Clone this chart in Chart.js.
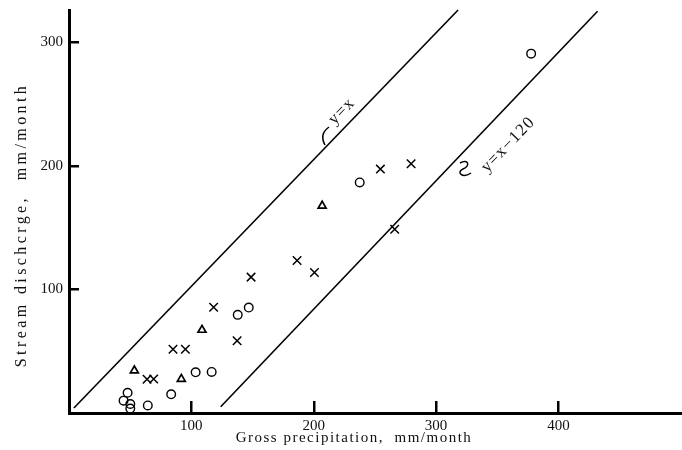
<!DOCTYPE html>
<html>
<head>
<meta charset="utf-8">
<script src="https://cdn.jsdelivr.net/npm/chart.js@4"></script>
<style>
    html, body { margin: 0; padding: 0; background: #fff; }
    #wrap { width: 682px; height: 450px; }
</style>
</head>
<body>
<div id="wrap"><canvas id="myChart" width="682" height="450"></canvas></div>
<script>
// values (mm/month)
const circle_x = [47.9, 44.6, 50.1, 50.1, 64.4, 83.5, 103.5, 116.6, 137.9, 146.9, 237.6, 377.7]
const circle_y = [16.4, 10.0, 7.3, 3.6, 6.1, 15.1, 32.9, 33.2, 79.4, 85.3, 186.5, 290.7]

const tri_x = [53.4, 91.8, 108.7, 206.9]
const tri_y = [34.3, 27.5, 67.2, 167.6]

const cross_x = [63.8, 69.2, 85.0, 95.1, 118.2, 137.4, 148.8, 186.4, 200.6, 254.5, 279.6, 266.2]
const cross_y = [27.3, 27.5, 51.6, 51.6, 85.6, 58.5, 109.9, 123.3, 113.6, 197.3, 201.6, 148.7]

// reference lines as drawn (end points)
const line1_x = [4, 318]
const line1_y = [4, 326]
const line2_x = [124, 432]
const line2_y = [5, 325]

const x_ticks = [100, 200, 300, 400]
const y_ticks = [100, 200, 300]

const line_labels = ['y=x', 'y=x\u2212120']
const x_title = 'Gross precipitation,  mm/month'
const y_title = 'Stream dischcrge,  mm/month'

const SERIF = '"Liberation Serif", "DejaVu Serif", serif'

const toPoints = (xs, ys) => xs.map((v, i) => ({ x: v, y: ys[i] }))

// tick marks pointing into the plot, axis titles, line labels
const decorPlugin = {
    id: 'decor',
    afterDraw(chart) {
        const ctx = chart.ctx
        const xs = chart.scales.x
        const ys = chart.scales.y
        const bottom = ys.getPixelForValue(0)
        const left = xs.getPixelForValue(0)
        ctx.save()
        ctx.fillStyle = '#000'
        for (let i = 0; i < x_ticks.length; i++) {
            let px = Math.round(xs.getPixelForValue(x_ticks[i]))
            ctx.fillRect(px - 1, bottom - 12, 2.5, 12)
        }
        for (let i = 0; i < y_ticks.length; i++) {
            let py = Math.round(ys.getPixelForValue(y_ticks[i]))
            ctx.fillRect(left, py - 1, 10, 2.5)
        }

        ctx.strokeStyle = '#000'
        ctx.fillStyle = '#111'
        ctx.textAlign = 'center'
        ctx.textBaseline = 'middle'
        ctx.font = `15px ${SERIF}`
        ctx.letterSpacing = '1.5px'
        ctx.fillText(x_title, 354, 438)

        ctx.save()
        ctx.font = `16px ${SERIF}`
        ctx.letterSpacing = '3.4px'
        ctx.translate(22, 225)
        ctx.rotate(-Math.PI / 2)
        ctx.fillText(y_title, 0, 0)
        ctx.restore()

        // labels along the two lines
        const ang = -46 * Math.PI / 180
        const spots = [[223, 244], [359, 217]]
        ctx.font = `17px ${SERIF}`
        ctx.letterSpacing = '1.2px'
        spots.forEach((s, i) => {
            ctx.save()
            ctx.translate(xs.getPixelForValue(s[0]), ys.getPixelForValue(s[1]))
            ctx.rotate(ang)
            ctx.fillText(line_labels[i], 0, 0)
            ctx.restore()
        })

        // little hook marks pointing at the lines
        ctx.lineWidth = 1.5
        ctx.beginPath()
        ctx.moveTo(329, 127)
        ctx.quadraticCurveTo(319, 134, 325, 145)
        ctx.stroke()
        ctx.beginPath()
        ctx.moveTo(460, 163)
        ctx.bezierCurveTo(468, 158, 471, 166, 463, 169)
        ctx.bezierCurveTo(456, 172, 462, 179, 471, 173)
        ctx.stroke()
        ctx.restore()
    }
}

const data = {
    datasets: [
        {
            label: 'y=x',
            type: 'line',
            data: toPoints(line1_x, line1_y),
            borderColor: '#000',
            borderWidth: 1.6,
            pointRadius: 0,
        },
        {
            label: 'y=x-120',
            type: 'line',
            data: toPoints(line2_x, line2_y),
            borderColor: '#000',
            borderWidth: 1.6,
            pointRadius: 0,
        },
        {
            label: 'circle',
            data: toPoints(circle_x, circle_y),
            pointStyle: 'circle',
            pointRadius: 4.3,
            borderColor: '#000',
            backgroundColor: 'rgba(0,0,0,0)',
            borderWidth: 1.4,
        },
        {
            label: 'triangle',
            data: toPoints(tri_x, tri_y),
            pointStyle: 'triangle',
            pointRadius: 4.6,
            borderColor: '#000',
            backgroundColor: 'rgba(0,0,0,0)',
            borderWidth: 1.7,
        },
        {
            label: 'cross',
            data: toPoints(cross_x, cross_y),
            pointStyle: 'crossRot',
            pointRadius: 6,
            borderColor: '#000',
            borderWidth: 1.5,
        },
    ]
}

const config = {
    type: 'scatter',
    data: data,
    options: {
        responsive: false,
        animation: false,
        clip: false,
        layout: {
            autoPadding: false,
            padding: { top: 10, right: 0, left: 0, bottom: 0 }
        },
        plugins: {
            legend: { display: false },
            tooltip: { enabled: false },
        },
        scales: {
            x: {
                type: 'linear',
                min: 0,
                max: 501,
                afterBuildTicks: (scale) => { scale.ticks = x_ticks.map(v => ({ value: v })) },
                afterFit: (scale) => {
                    scale.height = 37
                    scale.paddingLeft = 0
                    scale.paddingRight = 0
                },
                grid: { display: false, drawTicks: false },
                border: { color: '#000', width: 3 },
                ticks: {
                    color: '#111',
                    padding: 4,
                    maxRotation: 0,
                    font: { family: SERIF, size: 15 },
                },
            },
            y: {
                type: 'linear',
                min: 0,
                max: 326,
                afterBuildTicks: (scale) => { scale.ticks = y_ticks.map(v => ({ value: v })) },
                afterFit: (scale) => {
                    scale.width = 69
                    scale.paddingTop = 0
                    scale.paddingBottom = 0
                },
                grid: { display: false, drawTicks: false },
                border: { color: '#000', width: 3 },
                ticks: {
                    color: '#111',
                    padding: 6,
                    font: { family: SERIF, size: 15 },
                },
            },
        },
    },
    plugins: [decorPlugin],
}

new Chart(document.getElementById('myChart').getContext('2d'), config)
</script>
</body>
</html>
